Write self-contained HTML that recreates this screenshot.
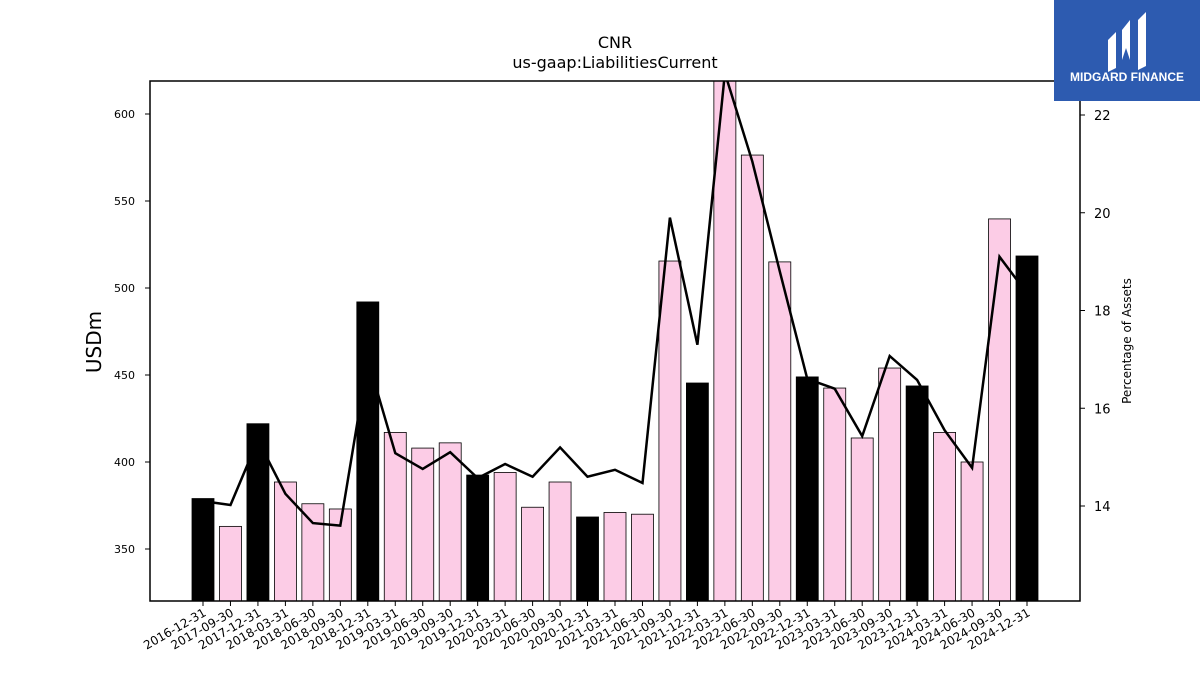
<!DOCTYPE html>
<html><head><meta charset="utf-8"><style>
body{margin:0;background:#fff;font-family:"Liberation Sans","DejaVu Sans",sans-serif;}
svg text{font-family:"DejaVu Sans","Liberation Sans",sans-serif;}
</style></head><body>
<svg id="c" width="1200" height="675" xmlns="http://www.w3.org/2000/svg">
<rect width="1200" height="675" fill="#fff"/>
<text x="615" y="48" font-size="16" text-anchor="middle">CNR</text>
<text x="615" y="68" font-size="16" text-anchor="middle">us-gaap:LiabilitiesCurrent</text>
<g id="bars"></g>
<g id="line"></g>
<rect x="150" y="81" width="930" height="520" fill="none" stroke="#000" stroke-width="1.5"/>
<g id="axes"></g>
<text transform="translate(101,342) rotate(-90)" font-size="20" text-anchor="middle">USDm</text>
<text transform="translate(1131,341) rotate(-90)" font-size="12" text-anchor="middle">Percentage of Assets</text>
<g>
<rect x="1054" y="0" width="146" height="101" fill="#2d5bb0"/>
<path d="M1108 40 L1116 32 L1116 68 L1108 72 Z" fill="#fff"/>
<path d="M1122 30 L1130 20 L1130 60 L1126 48 L1122 60 Z" fill="#fff"/>
<path d="M1138 20 L1146 12 L1146 66 L1138 70 Z" fill="#fff"/>
<text x="1127" y="81" font-size="12" font-weight="bold" fill="#fff" text-anchor="middle" style="font-family:'Liberation Sans',sans-serif">MIDGARD FINANCE</text>
</g>
</svg>
<script>
const categories=["2016-12-31","2017-09-30","2017-12-31","2018-03-31","2018-06-30","2018-09-30","2018-12-31","2019-03-31","2019-06-30","2019-09-30","2019-12-31","2020-03-31","2020-06-30","2020-09-30","2020-12-31","2021-03-31","2021-06-30","2021-09-30","2021-12-31","2022-03-31","2022-06-30","2022-09-30","2022-12-31","2023-03-31","2023-06-30","2023-09-30","2023-12-31","2024-03-31","2024-06-30","2024-09-30","2024-12-31"];
const liabilities=[379,363,422,388.5,376,373,492,417,408,411,392.5,394,374,388.5,368.4,371,370,515.5,445.4,625,576.4,515,448.9,442.5,413.8,454,443.7,417,400,539.7,518.4];
const pctAssets=[14.1,14.02,15.35,14.25,13.65,13.6,17.0,15.08,14.76,15.1,14.57,14.86,14.6,15.2,14.6,14.74,14.47,19.9,17.3,22.86,21.05,18.8,16.6,16.4,15.43,17.07,16.58,15.55,14.78,19.1,18.35];
const yTicks=[350,400,450,500,550,600];
const y2Ticks=[14,16,18,20,22];
const NS="http://www.w3.org/2000/svg";
const L=150,R=1080,T=81,B=601;
const x=i=>203+i*(1027-203)/(categories.length-1);
const y=v=>549-(v-350)*1.74;
const y2=v=>506-(v-14)*48.875;
function mk(t,a,p){const e=document.createElementNS(NS,t);for(const k in a)e.setAttribute(k,a[k]);p.appendChild(e);return e;}
const bars=document.getElementById('bars'),line=document.getElementById('line'),axes=document.getElementById('axes');
const clip=mk('clipPath',{id:'pc'},document.getElementById('c'));mk('rect',{x:L,y:T,width:R-L,height:B-T},clip);
bars.setAttribute('clip-path','url(#pc)');line.setAttribute('clip-path','url(#pc)');
categories.forEach((c,i)=>{
  const yr=c.endsWith('12-31');
  const top=y(liabilities[i]);
  const r=mk('rect',{x:x(i)-11,y:top,width:22,height:B-top,fill:yr?'#000':'#fccce6',stroke:'#000','stroke-width':0.8},bars);
  
  
  const t=mk('line',{x1:x(i),x2:x(i),y1:B,y2:B+5,stroke:'#000'},axes);
  
  
  const lb=mk('text',{transform:`translate(${x(i)+4},${B+14}) rotate(-30)`,'font-size':12,'text-anchor':'end'},axes);
  lb.textContent=c;
  
  
});
const pts=pctAssets.map((v,i)=>x(i).toFixed(1)+','+y2(v).toFixed(1)).join(' ');
const pl=mk('polyline',{points:pts,fill:'none',stroke:'#000','stroke-width':2.5},line);


yTicks.forEach(v=>{
  const t=mk('line',{x1:L-5,x2:L,y1:y(v),y2:y(v),stroke:'#000'},axes);
  
  
  const lb=mk('text',{x:L-15,y:y(v)+4,'font-size':11,'text-anchor':'end'},axes);
  lb.textContent=v;
  
  
});
y2Ticks.forEach(v=>{
  const t=mk('line',{x1:R,x2:R+5,y1:y2(v),y2:y2(v),stroke:'#000'},axes);
  
  
  const lb=mk('text',{x:R+14,y:y2(v)+5,'font-size':13},axes);
  lb.textContent=v;
  
  
});
</script>
</body></html>
